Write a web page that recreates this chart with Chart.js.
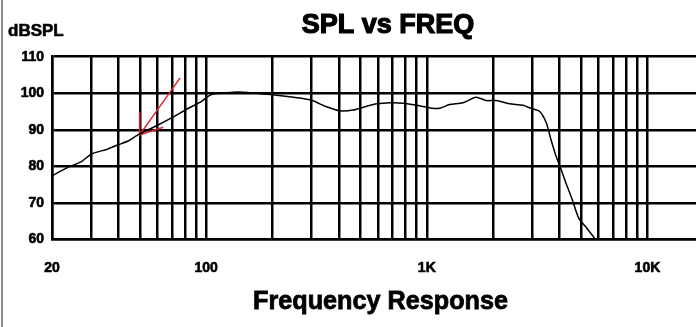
<!DOCTYPE html>
<html>
<head>
<meta charset="utf-8">
<title>SPL vs FREQ</title>
<script src="https://cdn.jsdelivr.net/npm/chart.js@4"></script>
<style>
    html, body { margin: 0; padding: 0; background: #fff; }
    #wrap { position: relative; width: 696px; height: 327px; }
    #edge { position: absolute; left: 1px; top: 0; width: 2px; height: 327px; background: #8a8a8a; }
</style>
</head>
<body>
<div id="wrap">
    <canvas id="spl" width="696" height="327"></canvas>
    <div id="edge"></div>
</div>
<script>
    "use strict";

    // Measured response (Hz / dB SPL)
    var freqs = [20, 23.7, 27.2, 30.2, 35.6, 39.9, 44.5, 49, 58.6, 69.3, 83.1, 94.8, 101.5, 108, 133, 147, 169,
        200, 249, 296, 351, 404, 464, 516, 594, 681, 782, 898, 1040, 1144, 1268, 1458, 1673, 1855, 2061,
        2370, 2727, 2954, 3248, 3485, 3658, 3857, 4021, 4274, 4568, 4887, 5230, 5752];
    var spl = [77.4, 79.8, 81.3, 83.4, 84.7, 85.9, 87.0, 88.6, 90.9, 93.2, 95.9, 97.7, 99.1, 99.8, 100.3, 100.3, 100.0,
        99.6, 98.9, 98.2, 96.3, 95.2, 95.4, 96.2, 97.1, 97.4, 97.3, 96.7, 96.0, 95.9, 96.9, 97.4, 98.9, 98.0, 98.0,
        97.1, 96.7, 95.9, 95.0, 91.8, 87.2, 82.7, 79.9, 75.4, 70.8, 65.8, 63.6, 60.4];

    // Red arrow pointing at the curve (tail, tip, head barbs)
    var arrowFreqs = [76.2, 49.9, 49.9, 49.9, 63.9];
    var arrowSpl = [104.2, 88.6, 94.9, 88.6, 90.7];

    // Grid frequencies and the ones that get a label
    var gridFreqs = [20, 30, 40, 50, 60, 70, 80, 90, 100, 200, 300, 400, 500, 600, 700, 800, 900,
        1000, 2000, 3000, 4000, 5000, 6000, 7000, 8000, 9000, 10000];
    var freqLabels = { 20: '20', 100: '100', 1000: '1K', 10000: '10K' };
    var splTicks = [60, 70, 80, 90, 100, 110];

    var titleText = 'SPL vs FREQ';
    var unitText = 'dBSPL';
    var xTitleText = 'Frequency Response';

    function toPoints(xs, ys) {
        return xs.map(function (x, i) { return { x: x, y: ys[i] }; });
    }

    // Title, unit label and a condensed x axis caption
    var captions = {
        id: 'captions',
        afterDraw: function (chart) {
            var ctx = chart.ctx;
            ctx.save();
            ctx.fillStyle = '#000';
            ctx.strokeStyle = '#000';
            ctx.textBaseline = 'alphabetic';

            ctx.font = 'bold 27px "Liberation Sans", Arial, sans-serif';
            ctx.textAlign = 'center';
            ctx.lineWidth = 1.2;
            ctx.fillText(titleText, 388, 33);
            ctx.strokeText(titleText, 388, 33);

            ctx.font = 'bold 17px "Liberation Sans", Arial, sans-serif';
            ctx.textAlign = 'left';
            ctx.lineWidth = 0.6;
            ctx.fillText(unitText, 8, 36);
            ctx.strokeText(unitText, 8, 36);

            ctx.font = 'bold 26px "Liberation Sans", Arial, sans-serif';
            ctx.textAlign = 'center';
            var sx = 255 / ctx.measureText(xTitleText).width;
            ctx.translate(380.5, 309);
            ctx.scale(sx, 1);
            ctx.lineWidth = 0.8;
            ctx.fillText(xTitleText, 0, 0);
            ctx.strokeText(xTitleText, 0, 0);
            ctx.restore();
        }
    };

    var tickFont = { family: '"Liberation Sans", Arial, sans-serif', size: 14, weight: 'bold' };

    new Chart(document.getElementById('spl').getContext('2d'), {
        type: 'scatter',
        data: {
            datasets: [{
                data: toPoints(freqs, spl),
                showLine: true,
                borderColor: '#000',
                borderWidth: 1.5,
                pointRadius: 0,
                tension: 0.25
            }, {
                data: toPoints(arrowFreqs, arrowSpl),
                showLine: true,
                borderColor: '#e0262e',
                borderWidth: 1.5,
                pointRadius: 0,
                tension: 0
            }]
        },
        options: {
            responsive: false,
            animation: false,
            devicePixelRatio: 1,
            layout: { padding: { top: 56.7 } },
            plugins: {
                legend: { display: false },
                tooltip: { enabled: false },
                title: { display: false }
            },
            scales: {
                x: {
                    type: 'logarithmic',
                    min: 20,
                    max: 16600,
                    afterBuildTicks: function (scale) {
                        scale.ticks = gridFreqs.map(function (v) { return { value: v }; });
                    },
                    afterFit: function (scale) {
                        scale.height = 87.5;
                    },
                    ticks: {
                        autoSkip: false,
                        maxRotation: 0,
                        padding: 20,
                        color: '#000',
                        textStrokeColor: '#000',
                        textStrokeWidth: 0.6,
                        font: tickFont,
                        callback: function (value) {
                            return freqLabels[value] || '';
                        }
                    },
                    grid: { color: '#000', lineWidth: 2.5, drawTicks: false },
                    border: { color: '#000', width: 2.5 }
                },
                y: {
                    min: 60,
                    max: 110,
                    afterFit: function (scale) {
                        scale.width = 52;
                    },
                    ticks: {
                        stepSize: 5,
                        padding: 8,
                        color: '#000',
                        textStrokeColor: '#000',
                        textStrokeWidth: 0.6,
                        font: tickFont,
                        callback: function (value) {
                            return splTicks.indexOf(value) >= 0 ? String(value) : '';
                        }
                    },
                    grid: { color: '#000', lineWidth: 2.5, drawTicks: false },
                    border: { color: '#000', width: 2.5 }
                }
            }
        },
        plugins: [captions]
    });
</script>
</body>
</html>
